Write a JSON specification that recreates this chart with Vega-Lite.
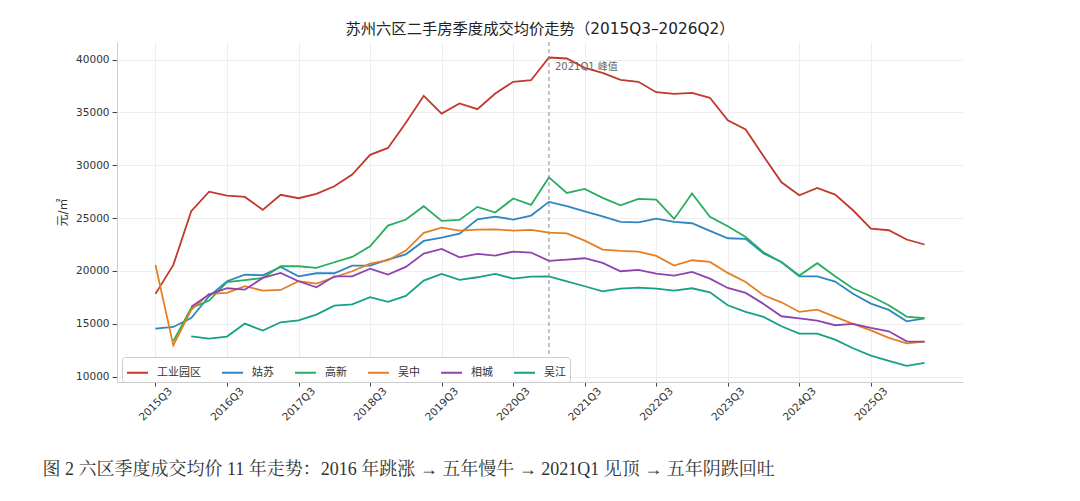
{
  "$schema": "https://vega.github.io/schema/vega-lite/v6.json",
  "description": "苏州六区二手房季度成交均价走势",
  "width": 846,
  "height": 340,
  "autosize": {"type": "none"},
  "padding": {"left": 117, "top": 42, "right": 117, "bottom": 118},
  "background": "white",
  "config": {"view": {"stroke": null}, "font": "DejaVu Sans, Noto Sans CJK SC"},
  "title": {
    "text": "苏州六区二手房季度成交均价走势（2015Q3–2026Q2）",
    "font": "DejaVu Sans, Noto Sans CJK SC",
    "fontSize": 15.3,
    "fontWeight": "normal",
    "color": "#222222",
    "anchor": "middle",
    "offset": 4
  },
  "encoding": {
    "x": {
      "field": "q",
      "type": "ordinal",
      "scale": {
        "type": "point",
        "padding": 0.15,
        "domain": ["2015Q1", "2015Q2", "2015Q3", "2015Q4", "2016Q1", "2016Q2", "2016Q3", "2016Q4", "2017Q1", "2017Q2", "2017Q3", "2017Q4", "2018Q1", "2018Q2", "2018Q3", "2018Q4", "2019Q1", "2019Q2", "2019Q3", "2019Q4", "2020Q1", "2020Q2", "2020Q3", "2020Q4", "2021Q1", "2021Q2", "2021Q3", "2021Q4", "2022Q1", "2022Q2", "2022Q3", "2022Q4", "2023Q1", "2023Q2", "2023Q3", "2023Q4", "2024Q1", "2024Q2", "2024Q3", "2024Q4", "2025Q1", "2025Q2", "2025Q3", "2025Q4", "2026Q1", "2026Q2", "2026Q3", "2026Q4"]
      },
      "axis": {
        "values": ["2015Q3", "2016Q3", "2017Q3", "2018Q3", "2019Q3", "2020Q3", "2021Q3", "2022Q3", "2023Q3", "2024Q3", "2025Q3"],
        "labelAngle": -45,
        "labelAlign": "center",
        "labelBaseline": "middle",
        "labelPadding": 18,
        "labelFontSize": 10.5,
        "labelColor": "#333333",
        "labelOverlap": false,
        "tickSize": 4,
        "tickColor": "#444444",
        "domainColor": "#cccccc",
        "grid": true,
        "gridColor": "#eeeeee",
        "title": "图 2 六区季度成交均价 11 年走势：2016 年跳涨 → 五年慢牛 → 2021Q1 见顶 → 五年阴跌回吐",
        "titleX": -75,
        "titleY": 87,
        "titleAlign": "left",
        "titleAnchor": "start",
        "titleBaseline": "middle",
        "titleFont": "Liberation Serif, Noto Serif CJK SC, Noto Sans CJK SC",
        "titleFontSize": 18,
        "titleFontWeight": "normal",
        "titleColor": "#333333"
      }
    }
  },
  "layer": [
    {
      "data": {
        "values": [
          {"q": "2015Q3", "d": "工业园区", "v": 17830},
          {"q": "2015Q4", "d": "工业园区", "v": 20570},
          {"q": "2016Q1", "d": "工业园区", "v": 25650},
          {"q": "2016Q2", "d": "工业园区", "v": 27500},
          {"q": "2016Q3", "d": "工业园区", "v": 27130},
          {"q": "2016Q4", "d": "工业园区", "v": 27000},
          {"q": "2017Q1", "d": "工业园区", "v": 25780},
          {"q": "2017Q2", "d": "工业园区", "v": 27200},
          {"q": "2017Q3", "d": "工业园区", "v": 26880},
          {"q": "2017Q4", "d": "工业园区", "v": 27290},
          {"q": "2018Q1", "d": "工业园区", "v": 28010},
          {"q": "2018Q2", "d": "工业园区", "v": 29120},
          {"q": "2018Q3", "d": "工业园区", "v": 30980},
          {"q": "2018Q4", "d": "工业园区", "v": 31640},
          {"q": "2019Q1", "d": "工业园区", "v": 34010},
          {"q": "2019Q2", "d": "工业园区", "v": 36570},
          {"q": "2019Q3", "d": "工业园区", "v": 34890},
          {"q": "2019Q4", "d": "工业园区", "v": 35840},
          {"q": "2020Q1", "d": "工业园区", "v": 35300},
          {"q": "2020Q2", "d": "工业园区", "v": 36780},
          {"q": "2020Q3", "d": "工业园区", "v": 37890},
          {"q": "2020Q4", "d": "工业园区", "v": 38040},
          {"q": "2021Q1", "d": "工业园区", "v": 40190},
          {"q": "2021Q2", "d": "工业园区", "v": 40100},
          {"q": "2021Q3", "d": "工业园区", "v": 39210},
          {"q": "2021Q4", "d": "工业园区", "v": 38740},
          {"q": "2022Q1", "d": "工业园区", "v": 38080},
          {"q": "2022Q2", "d": "工业园区", "v": 37890},
          {"q": "2022Q3", "d": "工业园区", "v": 36910},
          {"q": "2022Q4", "d": "工业园区", "v": 36750},
          {"q": "2023Q1", "d": "工业园区", "v": 36850},
          {"q": "2023Q2", "d": "工业园区", "v": 36380},
          {"q": "2023Q3", "d": "工业园区", "v": 34260},
          {"q": "2023Q4", "d": "工业园区", "v": 33380},
          {"q": "2024Q1", "d": "工业园区", "v": 30850},
          {"q": "2024Q2", "d": "工业园区", "v": 28390},
          {"q": "2024Q3", "d": "工业园区", "v": 27160},
          {"q": "2024Q4", "d": "工业园区", "v": 27860},
          {"q": "2025Q1", "d": "工业园区", "v": 27220},
          {"q": "2025Q2", "d": "工业园区", "v": 25740},
          {"q": "2025Q3", "d": "工业园区", "v": 24010},
          {"q": "2025Q4", "d": "工业园区", "v": 23850},
          {"q": "2026Q1", "d": "工业园区", "v": 22970},
          {"q": "2026Q2", "d": "工业园区", "v": 22500},

          {"q": "2015Q3", "d": "姑苏", "v": 14540},
          {"q": "2015Q4", "d": "姑苏", "v": 14700},
          {"q": "2016Q1", "d": "姑苏", "v": 15550},
          {"q": "2016Q2", "d": "姑苏", "v": 17600},
          {"q": "2016Q3", "d": "姑苏", "v": 19020},
          {"q": "2016Q4", "d": "姑苏", "v": 19650},
          {"q": "2017Q1", "d": "姑苏", "v": 19590},
          {"q": "2017Q2", "d": "姑苏", "v": 20380},
          {"q": "2017Q3", "d": "姑苏", "v": 19490},
          {"q": "2017Q4", "d": "姑苏", "v": 19780},
          {"q": "2018Q1", "d": "姑苏", "v": 19780},
          {"q": "2018Q2", "d": "姑苏", "v": 20500},
          {"q": "2018Q3", "d": "姑苏", "v": 20500},
          {"q": "2018Q4", "d": "姑苏", "v": 21070},
          {"q": "2019Q1", "d": "姑苏", "v": 21570},
          {"q": "2019Q2", "d": "姑苏", "v": 22840},
          {"q": "2019Q3", "d": "姑苏", "v": 23150},
          {"q": "2019Q4", "d": "姑苏", "v": 23530},
          {"q": "2020Q1", "d": "姑苏", "v": 24890},
          {"q": "2020Q2", "d": "姑苏", "v": 25140},
          {"q": "2020Q3", "d": "姑苏", "v": 24860},
          {"q": "2020Q4", "d": "姑苏", "v": 25240},
          {"q": "2021Q1", "d": "姑苏", "v": 26530},
          {"q": "2021Q2", "d": "姑苏", "v": 26120},
          {"q": "2021Q3", "d": "姑苏", "v": 25640},
          {"q": "2021Q4", "d": "姑苏", "v": 25170},
          {"q": "2022Q1", "d": "姑苏", "v": 24640},
          {"q": "2022Q2", "d": "姑苏", "v": 24600},
          {"q": "2022Q3", "d": "姑苏", "v": 24950},
          {"q": "2022Q4", "d": "姑苏", "v": 24640},
          {"q": "2023Q1", "d": "姑苏", "v": 24510},
          {"q": "2023Q2", "d": "姑苏", "v": 23790},
          {"q": "2023Q3", "d": "姑苏", "v": 23090},
          {"q": "2023Q4", "d": "姑苏", "v": 23030},
          {"q": "2024Q1", "d": "姑苏", "v": 21640},
          {"q": "2024Q2", "d": "姑苏", "v": 20850},
          {"q": "2024Q3", "d": "姑苏", "v": 19490},
          {"q": "2024Q4", "d": "姑苏", "v": 19490},
          {"q": "2025Q1", "d": "姑苏", "v": 18990},
          {"q": "2025Q2", "d": "姑苏", "v": 17830},
          {"q": "2025Q3", "d": "姑苏", "v": 16910},
          {"q": "2025Q4", "d": "姑苏", "v": 16310},
          {"q": "2026Q1", "d": "姑苏", "v": 15230},
          {"q": "2026Q2", "d": "姑苏", "v": 15520},

          {"q": "2015Q4", "d": "高新", "v": 13350},
          {"q": "2016Q1", "d": "高新", "v": 16500},
          {"q": "2016Q2", "d": "高新", "v": 17200},
          {"q": "2016Q3", "d": "高新", "v": 18930},
          {"q": "2016Q4", "d": "高新", "v": 19120},
          {"q": "2017Q1", "d": "高新", "v": 19340},
          {"q": "2017Q2", "d": "高新", "v": 20440},
          {"q": "2017Q3", "d": "高新", "v": 20440},
          {"q": "2017Q4", "d": "高新", "v": 20290},
          {"q": "2018Q1", "d": "高新", "v": 20820},
          {"q": "2018Q2", "d": "高新", "v": 21320},
          {"q": "2018Q3", "d": "高新", "v": 22330},
          {"q": "2018Q4", "d": "高新", "v": 24290},
          {"q": "2019Q1", "d": "高新", "v": 24860},
          {"q": "2019Q2", "d": "高新", "v": 26120},
          {"q": "2019Q3", "d": "高新", "v": 24730},
          {"q": "2019Q4", "d": "高新", "v": 24830},
          {"q": "2020Q1", "d": "高新", "v": 26060},
          {"q": "2020Q2", "d": "高新", "v": 25520},
          {"q": "2020Q3", "d": "高新", "v": 26850},
          {"q": "2020Q4", "d": "高新", "v": 26250},
          {"q": "2021Q1", "d": "高新", "v": 28850},
          {"q": "2021Q2", "d": "高新", "v": 27380},
          {"q": "2021Q3", "d": "高新", "v": 27760},
          {"q": "2021Q4", "d": "高新", "v": 26910},
          {"q": "2022Q1", "d": "高新", "v": 26210},
          {"q": "2022Q2", "d": "高新", "v": 26820},
          {"q": "2022Q3", "d": "高新", "v": 26750},
          {"q": "2022Q4", "d": "高新", "v": 24920},
          {"q": "2023Q1", "d": "高新", "v": 27320},
          {"q": "2023Q2", "d": "高新", "v": 25110},
          {"q": "2023Q3", "d": "高新", "v": 24220},
          {"q": "2023Q4", "d": "高新", "v": 23220},
          {"q": "2024Q1", "d": "高新", "v": 21760},
          {"q": "2024Q2", "d": "高新", "v": 20820},
          {"q": "2024Q3", "d": "高新", "v": 19560},
          {"q": "2024Q4", "d": "高新", "v": 20730},
          {"q": "2025Q1", "d": "高新", "v": 19490},
          {"q": "2025Q2", "d": "高新", "v": 18330},
          {"q": "2025Q3", "d": "高新", "v": 17600},
          {"q": "2025Q4", "d": "高新", "v": 16750},
          {"q": "2026Q1", "d": "高新", "v": 15680},
          {"q": "2026Q2", "d": "高新", "v": 15520},

          {"q": "2015Q3", "d": "吴中", "v": 20570},
          {"q": "2015Q4", "d": "吴中", "v": 12950},
          {"q": "2016Q1", "d": "吴中", "v": 16320},
          {"q": "2016Q2", "d": "吴中", "v": 17830},
          {"q": "2016Q3", "d": "吴中", "v": 17920},
          {"q": "2016Q4", "d": "吴中", "v": 18550},
          {"q": "2017Q1", "d": "吴中", "v": 18140},
          {"q": "2017Q2", "d": "吴中", "v": 18200},
          {"q": "2017Q3", "d": "吴中", "v": 19020},
          {"q": "2017Q4", "d": "吴中", "v": 18800},
          {"q": "2018Q1", "d": "吴中", "v": 19400},
          {"q": "2018Q2", "d": "吴中", "v": 19970},
          {"q": "2018Q3", "d": "吴中", "v": 20690},
          {"q": "2018Q4", "d": "吴中", "v": 21010},
          {"q": "2019Q1", "d": "吴中", "v": 21920},
          {"q": "2019Q2", "d": "吴中", "v": 23600},
          {"q": "2019Q3", "d": "吴中", "v": 24100},
          {"q": "2019Q4", "d": "吴中", "v": 23820},
          {"q": "2020Q1", "d": "吴中", "v": 23910},
          {"q": "2020Q2", "d": "吴中", "v": 23940},
          {"q": "2020Q3", "d": "吴中", "v": 23820},
          {"q": "2020Q4", "d": "吴中", "v": 23880},
          {"q": "2021Q1", "d": "吴中", "v": 23630},
          {"q": "2021Q2", "d": "吴中", "v": 23560},
          {"q": "2021Q3", "d": "吴中", "v": 22870},
          {"q": "2021Q4", "d": "吴中", "v": 22020},
          {"q": "2022Q1", "d": "吴中", "v": 21900},
          {"q": "2022Q2", "d": "吴中", "v": 21830},
          {"q": "2022Q3", "d": "吴中", "v": 21420},
          {"q": "2022Q4", "d": "吴中", "v": 20500},
          {"q": "2023Q1", "d": "吴中", "v": 21010},
          {"q": "2023Q2", "d": "吴中", "v": 20850},
          {"q": "2023Q3", "d": "吴中", "v": 19810},
          {"q": "2023Q4", "d": "吴中", "v": 18960},
          {"q": "2024Q1", "d": "吴中", "v": 17700},
          {"q": "2024Q2", "d": "吴中", "v": 17030},
          {"q": "2024Q3", "d": "吴中", "v": 16120},
          {"q": "2024Q4", "d": "吴中", "v": 16340},
          {"q": "2025Q1", "d": "吴中", "v": 15650},
          {"q": "2025Q2", "d": "吴中", "v": 14990},
          {"q": "2025Q3", "d": "吴中", "v": 14380},
          {"q": "2025Q4", "d": "吴中", "v": 13660},
          {"q": "2026Q1", "d": "吴中", "v": 13150},
          {"q": "2026Q2", "d": "吴中", "v": 13310},

          {"q": "2016Q1", "d": "相城", "v": 16620},
          {"q": "2016Q2", "d": "相城", "v": 17760},
          {"q": "2016Q3", "d": "相城", "v": 18360},
          {"q": "2016Q4", "d": "相城", "v": 18230},
          {"q": "2017Q1", "d": "相城", "v": 19340},
          {"q": "2017Q2", "d": "相城", "v": 19810},
          {"q": "2017Q3", "d": "相城", "v": 19020},
          {"q": "2017Q4", "d": "相城", "v": 18450},
          {"q": "2018Q1", "d": "相城", "v": 19490},
          {"q": "2018Q2", "d": "相城", "v": 19490},
          {"q": "2018Q3", "d": "相城", "v": 20220},
          {"q": "2018Q4", "d": "相城", "v": 19650},
          {"q": "2019Q1", "d": "相城", "v": 20380},
          {"q": "2019Q2", "d": "相城", "v": 21640},
          {"q": "2019Q3", "d": "相城", "v": 22090},
          {"q": "2019Q4", "d": "相城", "v": 21290},
          {"q": "2020Q1", "d": "相城", "v": 21610},
          {"q": "2020Q2", "d": "相城", "v": 21450},
          {"q": "2020Q3", "d": "相城", "v": 21830},
          {"q": "2020Q4", "d": "相城", "v": 21740},
          {"q": "2021Q1", "d": "相城", "v": 20950},
          {"q": "2021Q2", "d": "相城", "v": 21070},
          {"q": "2021Q3", "d": "相城", "v": 21200},
          {"q": "2021Q4", "d": "相城", "v": 20760},
          {"q": "2022Q1", "d": "相城", "v": 19970},
          {"q": "2022Q2", "d": "相城", "v": 20100},
          {"q": "2022Q3", "d": "相城", "v": 19750},
          {"q": "2022Q4", "d": "相城", "v": 19560},
          {"q": "2023Q1", "d": "相城", "v": 19910},
          {"q": "2023Q2", "d": "相城", "v": 19270},
          {"q": "2023Q3", "d": "相城", "v": 18390},
          {"q": "2023Q4", "d": "相城", "v": 17920},
          {"q": "2024Q1", "d": "相城", "v": 16880},
          {"q": "2024Q2", "d": "相城", "v": 15710},
          {"q": "2024Q3", "d": "相城", "v": 15520},
          {"q": "2024Q4", "d": "相城", "v": 15300},
          {"q": "2025Q1", "d": "相城", "v": 14860},
          {"q": "2025Q2", "d": "相城", "v": 14990},
          {"q": "2025Q3", "d": "相城", "v": 14600},
          {"q": "2025Q4", "d": "相城", "v": 14290},
          {"q": "2026Q1", "d": "相城", "v": 13340},
          {"q": "2026Q2", "d": "相城", "v": 13310},

          {"q": "2016Q1", "d": "吴江", "v": 13810},
          {"q": "2016Q2", "d": "吴江", "v": 13600},
          {"q": "2016Q3", "d": "吴江", "v": 13790},
          {"q": "2016Q4", "d": "吴江", "v": 15020},
          {"q": "2017Q1", "d": "吴江", "v": 14350},
          {"q": "2017Q2", "d": "吴江", "v": 15140},
          {"q": "2017Q3", "d": "吴江", "v": 15330},
          {"q": "2017Q4", "d": "吴江", "v": 15870},
          {"q": "2018Q1", "d": "吴江", "v": 16720},
          {"q": "2018Q2", "d": "吴江", "v": 16840},
          {"q": "2018Q3", "d": "吴江", "v": 17510},
          {"q": "2018Q4", "d": "吴江", "v": 17070},
          {"q": "2019Q1", "d": "吴江", "v": 17640},
          {"q": "2019Q2", "d": "吴江", "v": 19090},
          {"q": "2019Q3", "d": "吴江", "v": 19720},
          {"q": "2019Q4", "d": "吴江", "v": 19150},
          {"q": "2020Q1", "d": "吴江", "v": 19400},
          {"q": "2020Q2", "d": "吴江", "v": 19720},
          {"q": "2020Q3", "d": "吴江", "v": 19270},
          {"q": "2020Q4", "d": "吴江", "v": 19460},
          {"q": "2021Q1", "d": "吴江", "v": 19490},
          {"q": "2021Q2", "d": "吴江", "v": 19020},
          {"q": "2021Q3", "d": "吴江", "v": 18550},
          {"q": "2021Q4", "d": "吴江", "v": 18070},
          {"q": "2022Q1", "d": "吴江", "v": 18330},
          {"q": "2022Q2", "d": "吴江", "v": 18420},
          {"q": "2022Q3", "d": "吴江", "v": 18330},
          {"q": "2022Q4", "d": "吴江", "v": 18140},
          {"q": "2023Q1", "d": "吴江", "v": 18360},
          {"q": "2023Q2", "d": "吴江", "v": 17980},
          {"q": "2023Q3", "d": "吴江", "v": 16750},
          {"q": "2023Q4", "d": "吴江", "v": 16120},
          {"q": "2024Q1", "d": "吴江", "v": 15650},
          {"q": "2024Q2", "d": "吴江", "v": 14760},
          {"q": "2024Q3", "d": "吴江", "v": 14070},
          {"q": "2024Q4", "d": "吴江", "v": 14070},
          {"q": "2025Q1", "d": "吴江", "v": 13500},
          {"q": "2025Q2", "d": "吴江", "v": 12680},
          {"q": "2025Q3", "d": "吴江", "v": 11990},
          {"q": "2025Q4", "d": "吴江", "v": 11490},
          {"q": "2026Q1", "d": "吴江", "v": 11010},
          {"q": "2026Q2", "d": "吴江", "v": 11300}
        ]
      },
      "mark": {"type": "line", "strokeWidth": 1.8},
      "encoding": {
        "y": {
          "field": "v",
          "type": "quantitative",
          "title": "元/㎡",
          "scale": {"domain": [9490, 41660], "nice": false, "zero": false},
          "axis": {
            "values": [10000, 15000, 20000, 25000, 30000, 35000, 40000],
            "format": "d",
            "labelFontSize": 10.5,
            "labelColor": "#333333",
            "labelPadding": 3,
            "tickSize": 5,
            "tickColor": "#444444",
            "domainColor": "#cccccc",
            "grid": true,
            "gridColor": "#eeeeee",
            "titleFontSize": 12,
            "titleFontWeight": "normal",
            "titleColor": "#333333",
            "titlePadding": 6
          }
        },
        "color": {
          "field": "d",
          "type": "nominal",
          "scale": {
            "domain": ["工业园区", "姑苏", "高新", "吴中", "相城", "吴江"],
            "range": ["#c0392b", "#2e86c1", "#27ae60", "#e67e22", "#8e44ad", "#16a085"]
          },
          "legend": {
            "title": null,
            "orient": "none",
            "legendX": 5,
            "legendY": 315,
            "direction": "horizontal",
            "columns": 6,
            "symbolType": "stroke",
            "symbolStrokeWidth": 2,
            "symbolSize": 441,
            "labelFontSize": 11,
            "labelColor": "#333333",
            "labelOffset": 8,
            "columnPadding": 17,
            "padding": 4,
            "fillColor": "white",
            "strokeColor": "#cccccc",
            "cornerRadius": 3
          }
        }
      }
    },
    {
      "data": {"values": [{"q": "2021Q1", "v": 39300, "label": "2021Q1 峰值"}]},
      "layer": [
        {
          "mark": {"type": "rule", "color": "#888888", "strokeWidth": 1, "strokeDash": [4, 3]},
          "encoding": {}
        },
        {
          "mark": {"type": "text", "align": "left", "baseline": "middle", "dx": 6, "fontSize": 10, "color": "#666666"},
          "encoding": {
            "y": {"field": "v", "type": "quantitative", "title": "元/㎡"},
            "text": {"field": "label"}
          }
        }
      ]
    }
  ]
}
